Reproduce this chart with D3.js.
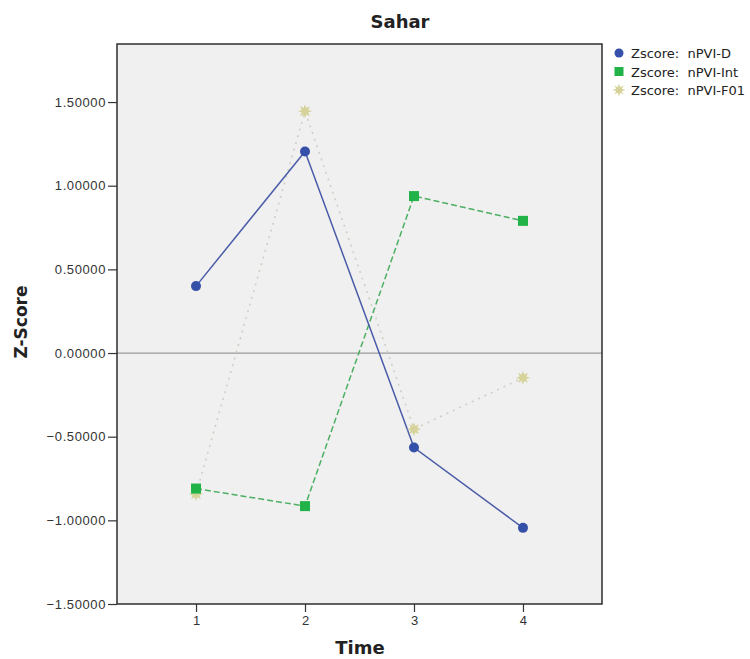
<!DOCTYPE html>
<html>
<head>
<meta charset="utf-8">
<script src="https://cdn.jsdelivr.net/npm/d3@7"></script>
<style>
  html, body { margin: 0; padding: 0; background: #ffffff; }
  svg { display: block; font-family: "DejaVu Sans", "Noto Sans", sans-serif; }
</style>
</head>
<body>
<svg id="chart" width="750" height="659"></svg>
<script>
// Time points and z-score series
const times = [1, 2, 3, 4];
const seriesNames = ["Zscore:  nPVI-D", "Zscore:  nPVI-Int", "Zscore:  nPVI-F01"];
const nPVI_D = [0.40, 1.205, -0.565, -1.045];
const nPVI_Int = [-0.81, -0.915, 0.938, 0.79];
const nPVI_F01 = [-0.843, 1.445, -0.455, -0.148];
const yTicks = [-1.5, -1.0, -0.5, 0.0, 0.5, 1.0, 1.5];

const svg = d3.select("#chart");
const plot = { left: 117, right: 602, top: 44, bottom: 604 };

const x = d3.scaleLinear().domain([0.275, 4.725]).range([plot.left, plot.right]);
const y = d3.scaleLinear().domain([-1.5, 1.847]).range([plot.bottom, plot.top]);

// Plot background
svg.append("rect")
  .attr("x", plot.left).attr("y", plot.top)
  .attr("width", plot.right - plot.left).attr("height", plot.bottom - plot.top)
  .attr("fill", "#f0f0f0");

// Zero reference line
svg.append("line")
  .attr("x1", plot.left).attr("x2", plot.right)
  .attr("y1", y(0)).attr("y2", y(0))
  .attr("stroke", "#9a9a9a").attr("stroke-width", 1.3);

// Axes
const yAxis = d3.axisLeft(y).tickValues(yTicks).tickSize(9).tickPadding(2)
  .tickFormat(d3.format(".5f"));
const gy = svg.append("g").attr("transform", `translate(${plot.left},0)`).call(yAxis);
gy.select(".domain").remove();
gy.selectAll("line").attr("stroke", "#333").attr("stroke-width", 1.2);
gy.selectAll("text").attr("font-size", 13).attr("letter-spacing", 0.6).attr("fill", "#333");

const xAxis = d3.axisBottom(x).tickValues(times).tickSize(8).tickPadding(4)
  .tickFormat(d3.format("d"));
const gx = svg.append("g").attr("transform", `translate(0,${plot.bottom})`).call(xAxis);
gx.select(".domain").remove();
gx.selectAll("line").attr("stroke", "#333").attr("stroke-width", 1.2);
gx.selectAll("text").attr("font-size", 13).attr("fill", "#333");

// Plot frame
svg.append("rect")
  .attr("x", plot.left).attr("y", plot.top)
  .attr("width", plot.right - plot.left).attr("height", plot.bottom - plot.top)
  .attr("fill", "none").attr("stroke", "#2e2e2e").attr("stroke-width", 1.5);

const line = d3.line().x((d, i) => x(times[i])).y(d => y(d));

// Starburst marker path
function starPath(r1, r2, n) {
  const pts = [];
  for (let i = 0; i < n * 2; i++) {
    const r = i % 2 === 0 ? r1 : r2;
    const a = Math.PI * i / n - Math.PI / 2;
    pts.push([r * Math.cos(a), r * Math.sin(a)]);
  }
  return "M" + pts.map(p => p.join(",")).join("L") + "Z";
}

// nPVI-F01 (dotted)
svg.append("path").datum(nPVI_F01)
  .attr("d", line).attr("fill", "none")
  .attr("stroke", "#cfcfc4").attr("stroke-width", 1.6)
  .attr("stroke-dasharray", "2,5");

// nPVI-Int (dashed)
svg.append("path").datum(nPVI_Int)
  .attr("d", line).attr("fill", "none")
  .attr("stroke", "#4caf63").attr("stroke-width", 1.5)
  .attr("stroke-dasharray", "6,3");

// nPVI-D (solid)
svg.append("path").datum(nPVI_D)
  .attr("d", line).attr("fill", "none")
  .attr("stroke", "#4a5ca8").attr("stroke-width", 1.5);

// Markers
svg.selectAll(".mF01").data(nPVI_F01).enter().append("path")
  .attr("transform", (d, i) => `translate(${x(times[i])},${y(d)})`)
  .attr("d", starPath(7, 3.5, 8)).attr("fill", "#d5d29a");

svg.selectAll(".mInt").data(nPVI_Int).enter().append("rect")
  .attr("x", (d, i) => x(times[i]) - 5).attr("y", d => y(d) - 5)
  .attr("width", 10).attr("height", 10).attr("fill", "#22b348");

svg.selectAll(".mD").data(nPVI_D).enter().append("circle")
  .attr("cx", (d, i) => x(times[i])).attr("cy", d => y(d))
  .attr("r", 5).attr("fill", "#3550a8");

// Title and axis titles
svg.append("text").attr("x", 400).attr("y", 28).attr("text-anchor", "middle")
  .attr("font-size", 18).attr("font-weight", "bold").attr("fill", "#222").text("Sahar");
svg.append("text").attr("x", 360).attr("y", 654).attr("text-anchor", "middle")
  .attr("font-size", 18).attr("font-weight", "bold").attr("fill", "#222").text("Time");
svg.append("text").attr("transform", "translate(27,322) rotate(-90)")
  .attr("text-anchor", "middle")
  .attr("font-size", 17).attr("font-weight", "bold").attr("fill", "#222").text("Z-Score");

// Legend
const legend = svg.append("g").attr("transform", "translate(619,53)");
const shapes = ["circle", "square", "star"];
const colors = ["#3550a8", "#22b348", "#d5d29a"];
seriesNames.forEach((name, i) => {
  const g = legend.append("g").attr("transform", `translate(0,${i * 18.5})`);
  if (shapes[i] === "circle") g.append("circle").attr("r", 4.5).attr("fill", colors[i]);
  else if (shapes[i] === "square") g.append("rect").attr("x", -4.5).attr("y", -4.5)
    .attr("width", 9).attr("height", 9).attr("fill", colors[i]);
  else g.append("path").attr("d", starPath(6.5, 3, 8)).attr("fill", colors[i]);
  g.append("text").attr("x", 12).attr("y", 5).attr("font-size", 13)
    .attr("fill", "#222").style("white-space", "pre").text(name);
});
</script>
</body>
</html>
